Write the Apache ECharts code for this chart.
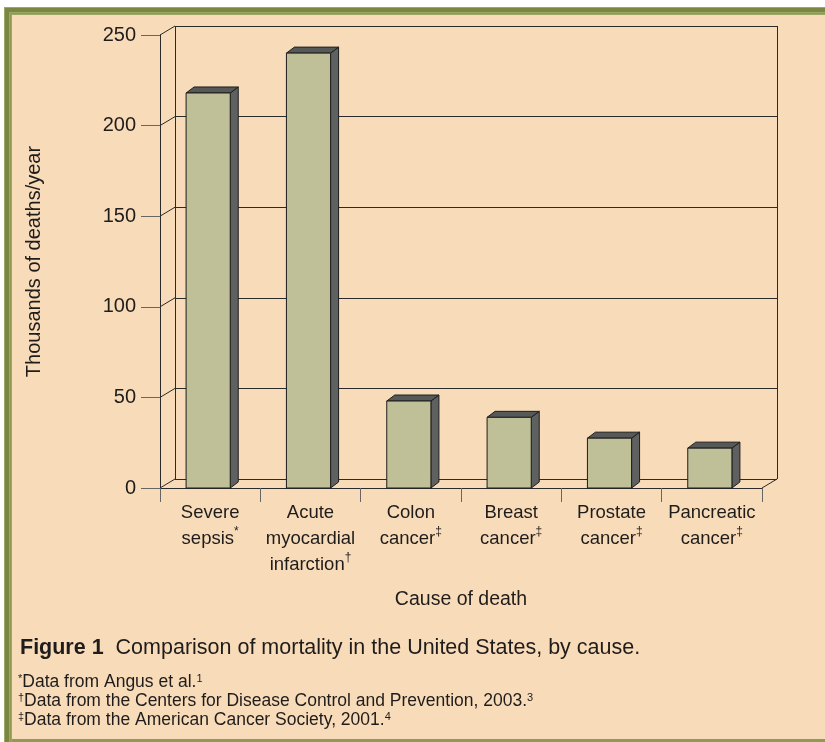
<!DOCTYPE html>
<html>
<head>
<meta charset="utf-8">
<script src="https://cdn.jsdelivr.net/npm/echarts@6/dist/echarts.min.js"></script>
<style>
  html, body { margin: 0; padding: 0; background: #fff; }
  #chart { width: 825px; height: 742px; }
</style>
</head>
<body>
<div id="chart"></div>
<script>
// data (thousands of deaths per year)
var categories = ['Severe\nsepsis', 'Acute\nmyocardial\ninfarction', 'Colon\ncancer', 'Breast\ncancer', 'Prostate\ncancer', 'Pancreatic\ncancer'];
var sourceMarks = ['*', '†', '‡', '‡', '‡', '‡'];
var deaths = [218, 240, 48, 39, 27.5, 22];
var yTicks = [0, 50, 100, 150, 200, 250];

var FONT = '"Liberation Sans Narrow", "Arial Narrow", "Liberation Sans", sans-serif';
var PEACH = '#f8dbb8';
var INK = '#1f1c1c';
// 3d offsets
var WALL_DX = 15, WALL_DY = -9;
var BAR_DX = 8, BAR_DY = -6;

var chart = echarts.init(document.getElementById('chart'));

function renderBar(params, api) {
    var idx = api.value(0);
    var base = api.coord([idx, 0]);
    var top = api.coord([idx, api.value(1)]);
    var w = api.size([1, 0])[0] * 0.44;
    var x0 = base[0] - w / 2 - 2;
    var yb = base[1], yt = top[1];
    var edge = { stroke: '#1e1e1e', lineWidth: 1 };
    return {
        type: 'group',
        children: [
            { type: 'polygon', shape: { points: [[x0 + w, yb], [x0 + w + BAR_DX, yb + BAR_DY], [x0 + w + BAR_DX, yt + BAR_DY], [x0 + w, yt]] },
              style: Object.assign({ fill: '#5f6060' }, edge) },
            { type: 'polygon', shape: { points: [[x0, yt], [x0 + BAR_DX, yt + BAR_DY], [x0 + w + BAR_DX, yt + BAR_DY], [x0 + w, yt]] },
              style: Object.assign({ fill: '#575858' }, edge) },
            { type: 'rect', shape: { x: x0, y: yt, width: w, height: yb - yt },
              style: Object.assign({ fill: '#bfbf98' }, edge) }
        ]
    };
}

// side wall / floor diagonals that join the front axis to the back wall
function renderWall(params, api) {
    var cs = params.coordSys;
    var y = api.coord([0, api.value(1)])[1];
    var kids = [{ type: 'line', shape: { x1: cs.x, y1: y, x2: cs.x + WALL_DX, y2: y + WALL_DY },
                  style: { stroke: '#2a2a2a', lineWidth: 1 } }];
    if (api.value(1) === 0) {
        kids.push({ type: 'line', shape: { x1: cs.x + cs.width, y1: y, x2: cs.x + cs.width + WALL_DX, y2: y + WALL_DY },
                    style: { stroke: '#2a2a2a', lineWidth: 1 } });
    }
    return { type: 'group', children: kids };
}

var supStyle = { fontSize: 12, fontFamily: FONT, color: INK, verticalAlign: 'top', lineHeight: 14 };

chart.setOption({
    backgroundColor: PEACH,
    animation: false,
    textStyle: { fontFamily: FONT, color: INK },
    grid: [
        { left: 160, right: 63, top: 35, bottom: 254 },
        { left: 175, right: 48, top: 26, bottom: 263 }
    ],
    xAxis: [
        {
            type: 'category',
            gridIndex: 0,
            data: categories,
            boundaryGap: true,
            name: 'Cause of death',
            nameLocation: 'middle',
            nameGap: 102,
            nameTextStyle: { fontSize: 19.5, color: INK, fontFamily: FONT },
            axisLine: { show: true, lineStyle: { color: '#2a2a2a', width: 1 } },
            axisTick: { show: true, length: 14, lineStyle: { color: '#666' } },
            axisLabel: {
                interval: 0,
                margin: 12,
                fontSize: 18.5,
                lineHeight: 26,
                color: INK,
                fontFamily: FONT,
                formatter: function (v, i) { return v + '{sup|' + sourceMarks[i] + '}'; },
                rich: { sup: supStyle }
            },
            splitLine: { show: false }
        },
        {
            type: 'value',
            gridIndex: 1,
            min: 0, max: 1, interval: 1,
            axisLine: { show: false },
            axisTick: { show: false },
            axisLabel: { show: false },
            splitLine: { show: true, lineStyle: { color: '#2a2a2a', width: 1 } }
        }
    ],
    yAxis: [
        {
            type: 'value',
            gridIndex: 0,
            min: 0, max: 250, interval: 50,
            name: 'Thousands of deaths/year',
            nameLocation: 'middle',
            nameGap: 116,
            nameRotate: 90,
            nameTextStyle: { fontSize: 20, color: INK, fontFamily: FONT },
            axisLine: { show: true, lineStyle: { color: '#2a2a2a', width: 1 } },
            axisTick: { show: true, length: 19, lineStyle: { color: '#666' } },
            axisLabel: { margin: 24, fontSize: 20, color: INK, fontFamily: FONT },
            splitLine: { show: false }
        },
        {
            type: 'value',
            gridIndex: 1,
            min: 0, max: 250, interval: 50,
            axisLine: { show: false },
            axisTick: { show: false },
            axisLabel: { show: false },
            splitLine: { show: true, lineStyle: { color: '#2a2a2a', width: 1 } }
        }
    ],
    graphic: [
        // white margin and green frame
        { type: 'rect', shape: { x: 0, y: 0, width: 825, height: 7 }, style: { fill: '#fff' } },
        { type: 'rect', shape: { x: 0, y: 0, width: 4, height: 742 }, style: { fill: '#fff' } },
        { type: 'rect', shape: { x: 4, y: 7, width: 821, height: 8 }, style: { fill: '#9da866' } },
        { type: 'rect', shape: { x: 4, y: 7, width: 8, height: 735 }, style: { fill: '#9da866' } },
        { type: 'rect', shape: { x: 5, y: 8, width: 820, height: 4 }, style: { fill: '#7b8741' } },
        { type: 'rect', shape: { x: 5, y: 8, width: 4, height: 734 }, style: { fill: '#7b8741' } },
        { type: 'rect', shape: { x: 10, y: 13, width: 815, height: 1 }, style: { fill: '#8e9954' } },
        { type: 'rect', shape: { x: 10, y: 13, width: 1, height: 729 }, style: { fill: '#8e9954' } },
        { type: 'rect', shape: { x: 12, y: 739, width: 813, height: 3 }, style: { fill: '#8f9a55' } },
        // caption
        {
            type: 'text', left: 20, top: 637,
            style: {
                text: '{b|Figure 1}  Comparison of mortality in the United States, by cause.',
                fontSize: 21.5, fontFamily: FONT, fill: INK,
                rich: { b: { fontSize: 21.5, fontWeight: 'bold', fontFamily: FONT, color: INK } }
            }
        },
        {
            type: 'text', left: 18, top: 673,
            style: {
                text: '{s|*}Data from Angus et al.{s|1}\n{s|†}Data from the Centers for Disease Control and Prevention, 2003.{s|3}\n{s|‡}Data from the American Cancer Society, 2001.{s|4}',
                fontSize: 17.5, lineHeight: 19, fontFamily: FONT, fill: INK,
                rich: { s: { fontSize: 11, lineHeight: 13, verticalAlign: 'top', fontFamily: FONT, color: INK } }
            }
        }
    ],
    series: [
        {
            type: 'custom',
            xAxisIndex: 0, yAxisIndex: 0,
            renderItem: renderWall,
            data: yTicks.map(function (v) { return [0, v]; }),
            z: 1
        },
        {
            type: 'custom',
            xAxisIndex: 0, yAxisIndex: 0,
            renderItem: renderBar,
            data: deaths.map(function (v, i) { return [i, v]; }),
            z: 3
        }
    ]
});
</script>
</body>
</html>
